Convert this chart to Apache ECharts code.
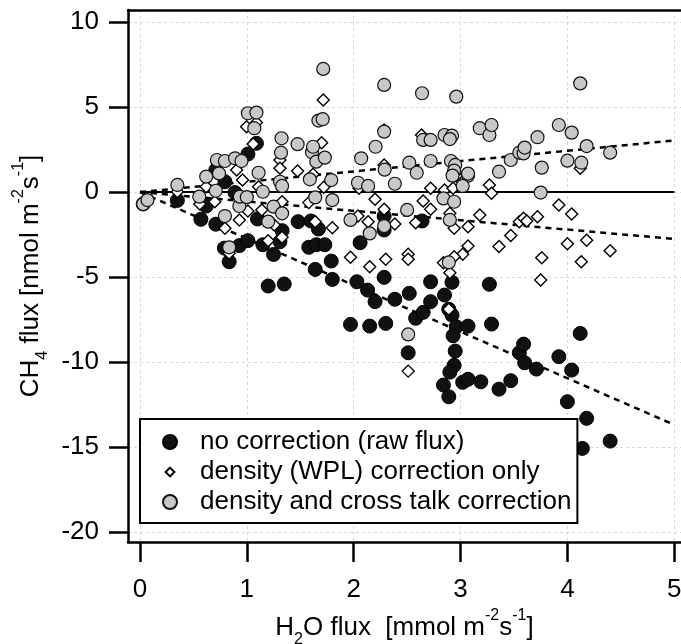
<!DOCTYPE html>
<html><head><meta charset="utf-8">
<script src="https://cdn.jsdelivr.net/npm/echarts@6/dist/echarts.min.js"></script>
<style>html,body{margin:0;padding:0;background:#fff}#c{width:681px;height:644px}</style>
</head><body><div id="c"></div>
<script>
// ---- data ----
const xTicks = [0, 1, 2, 3, 4, 5];
const yTicks = [-20, -15, -10, -5, 0, 5, 10];
const seriesNames = ['no correction (raw flux)', 'density (WPL) correction only', 'density and cross talk correction'];

const rawFlux = [
 [0.03,-0.7],[0.35,-0.49],[0.57,-1.60],[0.62,-0.82],[0.71,-1.89],[0.71,1.3],[0.795,0.61],[0.889,-0.03],[1.01,2.24],[1.09,2.87],
 [0.79,-3.3],[0.835,-4.1],[0.93,-3.15],[1.01,-2.86],[1.10,-1.58],[1.15,-3.1],[1.25,-3.67],[1.20,-5.53],[1.35,-5.41],[1.31,-2.92],
 [1.33,-2.27],[1.48,-1.74],[1.58,-3.25],[1.65,-3.1],[1.73,-3.1],[1.60,-1.70],[1.67,-2.17],[1.64,-4.55],[1.79,-4.06],[1.80,-5.14],
 [1.97,-7.79],[2.06,-2.98],[2.03,-5.28],[2.13,-5.77],[2.15,-7.89],[2.20,-6.45],[2.285,-5.02],[2.30,-7.73],[2.285,-2.23],[2.285,-1.41],
 [2.385,-6.31],[2.52,-5.96],[2.51,-9.46],[2.58,-7.43],[2.65,-7.08],[2.64,-1.70],[2.72,-5.28],[2.72,-6.45],[2.85,-6.06],[2.84,-11.36],
 [2.89,-12.05],[2.92,-5.31],[2.89,-6.9],[2.92,-7.24],[2.96,-7.93],[2.93,-8.46],[2.95,-9.36],[2.94,-10.2],[2.90,-10.6],[3.02,-11.2],
 [3.07,-11.02],[3.07,-7.89],[3.19,-11.17],[3.27,-5.43],[3.29,-7.77],[3.36,-11.6],[3.47,-11.1],[3.55,-9.46],[3.59,-8.95],[3.60,-10.05],
 [3.71,-10.42],[3.92,-9.69],[4.04,-10.48],[4.12,-8.32],[4.00,-12.34],[4.18,-13.32],[4.14,-15.09],[4.40,-14.66]
];

const wplFlux = [
 [0.998,3.85],[1.09,4.09],[1.06,2.83],[1.31,1.89],[1.31,1.40],[1.475,1.24],[0.905,1.30],[0.96,0.71],[0.70,-0.57],[0.56,-0.70],
 [0.62,0.32],[0.795,-2.13],[0.93,-1.64],[1.01,-1.11],[1.14,-1.05],[1.33,-0.57],[1.20,-2.86],[1.33,-2.66],[1.58,-0.62],[1.64,-1.74],
 [1.80,-2.10],[1.715,5.42],[1.70,2.91],[1.72,0.28],[1.62,1.05],[2.05,0.22],[2.20,-0.42],[2.285,3.66],[2.285,1.60],[2.135,-1.74],
 [2.285,-1.01],[2.385,-1.88],[2.04,-1.41],[1.11,0.32],[0.35,0.02],[0.835,-3.6],[1.256,-1.94],[1.97,-3.84],[2.15,-4.39],[2.30,-3.96],
 [2.635,3.36],[2.96,0.95],[2.72,0.22],[2.85,0.12],[2.93,0.22],[3.27,0.42],[3.29,-0.07],[4.12,1.40],[2.58,-1.80],[2.65,-0.52],
 [2.72,-1.01],[2.90,-1.25],[2.94,-2.13],[3.07,-2.04],[3.18,-1.35],[3.47,-2.55],[3.55,-1.74],[3.59,-1.54],[3.62,-1.7],[3.72,-1.45],
 [3.92,-0.76],[4.04,-1.29],[4.18,-2.84],[3.07,-3.17],[3.36,-3.21],[4.0,-3.04],[4.40,-3.45],[2.51,-3.66],[2.51,-3.96],[3.02,-3.66],
 [2.94,-3.8],[2.84,-4.16],[2.90,-4.75],[3.76,-3.86],[3.75,-5.18],[4.13,-4.10],[2.89,-6.9],[2.51,-10.54]
];

const crossTalkFlux = [
 [0.03,-0.70],[0.07,-0.47],[0.35,0.42],[0.555,-0.27],[0.62,0.91],[0.72,1.89],[0.795,1.83],[0.74,1.1],[0.71,0.08],[0.89,1.99],
 [0.95,1.83],[0.795,-1.41],[0.93,-0.82],[0.935,-0.27],[1.0,-0.3],[1.01,4.64],[1.09,4.68],[1.07,3.76],[1.11,1.14],[1.15,0.02],
 [1.20,-1.74],[1.25,-0.86],[1.325,3.17],[1.32,2.32],[1.31,0.61],[1.33,0.36],[1.33,-1.25],[1.475,2.82],[1.61,2.34],[1.62,2.67],
 [1.65,1.79],[1.73,2.03],[1.67,4.21],[1.71,4.29],[1.715,7.25],[1.59,0.75],[1.64,-0.31],[1.79,0.71],[1.80,-0.47],[2.04,0.55],
 [2.135,0.36],[2.205,2.67],[2.07,1.99],[2.285,6.31],[2.285,3.56],[2.29,1.32],[2.385,0.49],[1.97,-1.64],[2.15,-2.43],[2.285,-2.0],
 [0.835,-3.25],[2.52,1.73],[2.59,1.14],[2.64,5.82],[2.65,3.07],[2.72,3.07],[2.72,1.83],[2.85,3.36],[2.92,3.32],[2.90,3.12],
 [2.96,5.62],[2.91,1.83],[2.95,1.6],[2.94,1.26],[2.925,0.97],[3.07,0.97],[3.07,1.09],[3.02,0.36],[2.84,-0.37],[2.94,-0.57],
 [3.18,3.76],[3.27,3.36],[3.29,3.95],[3.36,1.2],[3.47,1.89],[3.55,2.32],[3.59,2.28],[3.60,2.62],[3.72,3.23],[3.76,1.44],
 [3.75,-0.03],[3.92,3.95],[4.0,1.85],[4.04,3.5],[4.13,1.73],[4.12,6.4],[4.18,2.71],[4.40,2.32],[2.50,-1.05],[2.90,-1.64],
 [2.89,-4.14],[2.51,-8.38]
];

// fitted lines (end points)
const zeroLine = [[0, 0], [5, 0]];
const rawFit = [[0, 0], [5, -13.7]];
const wplFit = [[0, 0], [5, -2.76]];
const crossTalkFit = [[0, 0], [5, 3.04]];

// ---- chart ----
const FONT = '"Liberation Sans", Arial, Helvetica, sans-serif';
const rich = {
  n: {fontSize: 26, fontFamily: FONT, color: '#000', lineHeight: 40},
  sup: {fontSize: 16, fontFamily: FONT, color: '#000', lineHeight: 10, verticalAlign: 'top'},
  sub: {fontSize: 16, fontFamily: FONT, color: '#000', lineHeight: 22, verticalAlign: 'bottom'}
};
const lineSeries = (data, dashed) => ({
  type: 'line', data, symbol: 'none', silent: true, z: 1,
  lineStyle: {color: '#000', width: dashed ? 2.5 : 2, type: dashed ? [6, 5] : 'solid'},
  animation: false
});

const chart = echarts.init(document.getElementById('c'), null, {renderer: 'canvas'});
chart.setOption({
  animation: false,
  backgroundColor: '#fff',
  grid: {left: 128, right: 0, top: 10, bottom: 102, containLabel: false, outerBoundsMode: 'none'},
  xAxis: [{
    type: 'value', min: -0.112, max: 5.063, position: 'bottom',
    axisLine: {show: true, onZero: false, lineStyle: {color: '#000', width: 2.5}},
    axisTick: {show: true, inside: false, length: 20, lineStyle: {color: '#000', width: 2.5}, customValues: xTicks},
    axisLabel: {show: true, customValues: xTicks, fontSize: 26, fontFamily: FONT, color: '#000', margin: 35},
    splitLine: {show: true, lineStyle: {color: '#d8d8d8', width: 1, type: [3, 3]}},
    name: '{n|H}{sub|2}{n|O flux  [mmol m}{sup|-2}{n|s}{sup|-1}{n|]}',
    nameLocation: 'middle', nameGap: 65,
    nameTextStyle: {rich}
  }, {
    type: 'value', min: -0.112, max: 5.063, position: 'top',
    axisLine: {show: true, onZero: false, lineStyle: {color: '#000', width: 2.5}},
    axisTick: {show: false}, axisLabel: {show: false}, splitLine: {show: false}
  }],
  yAxis: {
    type: 'value', min: -20.6, max: 10.72,
    axisLine: {show: true, onZero: false, lineStyle: {color: '#000', width: 2.5}},
    axisTick: {show: true, inside: false, length: 19, lineStyle: {color: '#000', width: 2.5}, customValues: yTicks},
    axisLabel: {show: true, customValues: yTicks, fontSize: 26, fontFamily: FONT, color: '#000', margin: 29},
    splitLine: {show: true, lineStyle: {color: '#d8d8d8', width: 1, type: [3, 3]}},
    name: '{n|CH}{sub|4}{n| flux [nmol m}{sup|-2}{n|s}{sup|-1}{n|]}',
    nameLocation: 'middle', nameGap: 67,
    nameTextStyle: {rich}
  },
  legend: {
    orient: 'vertical', left: 140, top: 419,
    padding: [8, 6, 6, 22], itemGap: 0, itemWidth: 14, itemHeight: 14,
    borderColor: '#000', borderWidth: 2, backgroundColor: '#fff',
    textStyle: {fontSize: 26, fontFamily: FONT, color: '#000', lineHeight: 30, padding: [0, 0, 0, 18]},
    data: [
      {name: seriesNames[0], icon: 'circle'},
      {name: seriesNames[1], icon: 'path://M-8,-8 M8,8 M0,-5 L5,0 L0,5 L-5,0 Z'},
      {name: seriesNames[2], icon: 'circle'}
    ],
    selectedMode: false
  },
  series: [
    lineSeries(zeroLine, false),
    lineSeries(rawFit, true),
    lineSeries(wplFit, true),
    lineSeries(crossTalkFit, true),
    {name: seriesNames[0], type: 'scatter', data: rawFlux, symbol: 'circle', symbolSize: 14, z: 2,
     itemStyle: {color: '#111', borderColor: '#000', borderWidth: 1, opacity: 1}},
    {name: seriesNames[1], type: 'scatter', data: wplFlux, symbol: 'diamond', symbolSize: 12, z: 3,
     itemStyle: {color: '#fff', borderColor: '#000', borderWidth: 1.4, opacity: 1}},
    {name: seriesNames[2], type: 'scatter', data: crossTalkFlux, symbol: 'circle', symbolSize: 13, z: 4,
     itemStyle: {color: '#c8c8c8', borderColor: '#111', borderWidth: 1.2, opacity: 1}}
  ]
});
</script></body></html>
